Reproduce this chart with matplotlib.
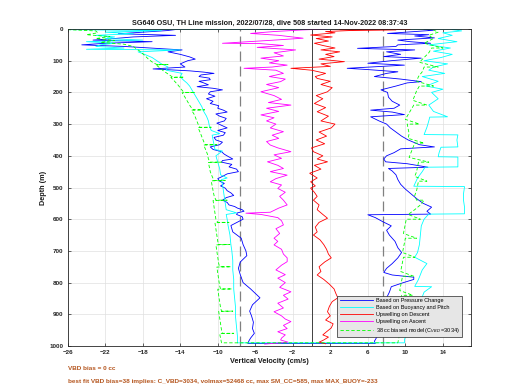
import matplotlib
matplotlib.use("Agg")
import matplotlib.pyplot as plt

plt.rcParams['font.family'] = ['Liberation Sans', 'DejaVu Sans']

title = "SG646 OSU, TH Line mission, 2022/07/28, dive 508 started 14-Nov-2022 08:37:43"
xlabel = "Vertical Velocity (cm/s)"
ylabel = "Depth (m)"
note1 = "VBD bias = 0 cc"
note2 = "best fit VBD bias=38 implies: C_VBD=3034, volmax=52468 cc, max SM_CC=585, max MAX_BUOY=-233"
legend_labels = ["Based on Pressure Change", "Based on Buoyancy and Pitch",
                 "Upwelling on Descent", "Upwelling on Ascent",
                 "38 cc biased model (C$_{VBD}$ =3034)"]
xticks = [-26, -22, -18, -14, -10, -6, -2, 2, 6, 10, 14]
yticks = [0, 100, 200, 300, 400, 500, 600, 700, 800, 900, 1000]
dash_lines = [-7.6, 7.6]

# Based on pressure change (blue): descent then ascent
blue_desc_depth = [0, 5, 10, 15, 20, 25, 30, 35, 40, 45, 50, 55, 62, 66, 72, 80, 88, 95, 100, 110, 120, 126,
                   132, 136, 140, 145, 150, 155, 160, 165, 170, 176,
                   182, 187, 192, 198, 205, 212, 220, 228, 235, 242,
                   250, 256, 262, 268, 275, 282, 290, 297, 305, 312,
                   320, 327, 335, 342, 350, 357, 365, 372, 380, 387,
                   395, 402, 410, 415, 420, 427, 435, 442, 450, 457,
                   465, 472, 480, 487, 495, 502, 510, 517, 525, 532,
                   540, 547, 555, 560, 565, 570, 575, 580, 585, 592, 600,
                   620, 640, 660, 680, 700, 715, 735, 755, 775, 800, 820, 848, 870, 890, 905, 925, 945, 960, 975,
                   985, 992]
blue_desc_vel = [-14.0, -15.4, -18.0, -20.6, -14.5, -19.0, -21.0, -23.3, -17.0, -22.0, -24.5, -20.0, -16.0, -13.8,
                 -15.3, -14.0, -13.0, -12.4, -13.2, -14.0, -13.5, -16.9,
                 -13.0, -11.5, -10.4, -11.8, -12.0, -10.9, -10.8, -12.0, -11.5, -11.0,
                 -12.2, -10.5, -9.5, -10.8, -11.0, -10.3, -11.2, -10.5, -10.8, -9.9,
                 -10.0, -9.4, -9.0, -10.2, -9.8, -9.1, -9.3, -10.1, -9.5, -9.0,
                 -10.0, -9.2, -9.4, -10.4, -10.2, -9.5, -9.8, -10.8, -10.5, -9.6,
                 -9.3, -8.9, -8.4, -9.5, -9.6, -8.5, -8.8, -8.0, -7.8, -9.0,
                 -9.5, -10.0, -9.8, -9.3, -9.7, -9.2, -9.0, -8.6, -8.3, -9.1,
                 -9.5, -9.0, -8.8, -8.2, -7.9, -7.4, -7.2, -7.9, -8.0, -7.4, -7.3,
                 -8.6, -8.4, -7.5, -7.3, -7.0, -6.9, -7.6, -7.8, -7.6, -7.3, -6.5, -5.5, -6.3, -6.6, -6.4, -6.2,
                 -6.3, -6.1, -6.5, -6.7, -6.8]
blue_asc_depth = [992, 985, 970, 950, 930, 905, 886, 865, 848, 830, 813, 800, 790, 783, 776, 768, 755, 740, 722, 705,
                  690, 670, 650, 635, 621, 608, 595, 586, 584, 575, 562, 550, 535, 520, 505, 490, 475, 460, 448, 440,
                  436, 425, 419, 410, 400, 390, 378, 372, 365, 350, 338, 325, 312, 300, 290, 280, 277, 270, 262, 256,
                  250, 240, 228, 215, 200, 192, 180, 170, 166, 158, 150, 140, 135, 128, 124, 118, 114, 108, 100, 92,
                  87, 80, 72, 66, 61, 55, 50, 45, 40, 35, 28, 22, 18, 14, 8, 4, 1]
blue_asc_vel = [6.8, 6.7, 7.0, 7.3, 7.8, 8.0, 8.1, 8.4, 8.0, 8.3,
                8.5, 9.8, 10.9, 10.9, 8.6, 7.7, 8.0, 8.6, 9.2, 9.6,
                9.2, 8.9, 8.3, 8.0, 8.5, 7.6, 6.8, 6.0, 12.7, 12.3,
                12.8, 11.9, 11.2, 10.6, 10.0, 9.5, 9.2, 9.0, 8.6, 8.2,
                12.4, 10.2, 7.9, 7.7, 8.0, 8.8, 9.5, 13.1, 11.5, 10.3,
                9.6, 9.0, 8.4, 8.0, 7.2, 6.5, 6.3, 9.9, 8.6, 6.3,
                8.8, 9.4, 8.6, 8.2, 8.1, 7.4, 9.0, 10.2, 11.7, 9.5,
                6.7, 8.0, 9.2, 6.0, 3.8, 7.5, 9.9, 6.0, 8.5, 11.7,
                7.7, 9.5, 8.0, 11.0, 4.9, 9.0, 9.2, 12.7, 10.5, 9.2,
                13.1, 11.0, 12.5, 8.1, 11.0, 13.0, 12.0]

# Based on buoyancy and pitch (cyan)
cyan_desc_depth = [0.5, 2, 5, 10, 15, 20, 25, 30, 35, 40, 45, 50, 55, 60, 64, 66, 72, 80, 90, 100,
                   110, 120, 130, 140, 150, 160, 170, 180, 190, 200, 215, 230, 245, 260, 275, 290, 305, 320, 330, 335,
                   350, 365, 380, 385, 400, 420, 440, 460, 470, 475, 490, 510, 530, 550, 570, 580, 585, 600, 620, 650,
                   680, 700, 730, 760, 790, 820, 850, 880, 910, 940, 970, 990]
cyan_desc_vel = [16.0, -26.0, -16.0, -22.0, -19.0, -23.0, -21.0, -22.0, -18.0, -24.0,
                 -21.0, -22.5, -23.0, -20.0, -24.0, -14.0, -18.5, -17.8, -17.0, -16.5,
                 -16.0, -15.3, -15.5, -13.8, -14.0, -13.7, -13.3, -13.0, -12.8, -12.6,
                 -12.3, -12.0, -11.7, -11.5, -11.2, -11.0, -10.9, -10.7, -9.8, -10.6,
                 -10.5, -10.4, -10.3, -9.5, -10.2, -10.0, -9.8, -9.7, -9.0, -9.6,
                 -9.5, -9.4, -9.3, -9.2, -9.1, -8.0, -9.1, -9.0, -8.9, -8.7,
                 -8.6, -8.5, -8.4, -8.4, -8.3, -8.3, -8.2, -8.1, -8.1, -8.0,
                 -7.9, -7.9]
cyan_asc_depth = [990, 980, 950, 918, 890, 860, 830, 813, 812, 790, 760, 740, 720, 705, 680, 650, 621, 600, 590, 584,
                  583, 560, 540, 520, 500, 497, 496, 470, 450, 436, 435, 420, 404, 403, 390, 373, 372, 350, 334, 333,
                  310, 290, 278, 277, 260, 240, 220, 200, 190, 180, 165, 150, 140, 130, 120, 110, 100, 90, 80, 70,
                  60, 50, 40, 30, 20, 12, 6, 2]
cyan_asc_vel = [9.9, 9.9, 10.3, 10.9, 11.2, 11.6, 12.0, 12.8, 11.0, 11.4,
                11.8, 12.3, 11.0, 11.3, 11.5, 11.6, 11.7, 12.0, 12.3, 12.5,
                16.3, 16.3, 16.2, 16.2, 16.3, 16.3, 10.9, 11.3, 11.8, 12.1,
                15.6, 15.6, 15.6, 13.5, 13.6, 13.8, 15.6, 15.5, 15.6, 12.0,
                12.3, 12.5, 12.6, 14.5, 13.0, 12.5, 13.5, 12.8, 14.0, 12.2,
                13.5, 11.8, 14.2, 12.5, 13.0, 14.5, 12.0, 13.8, 15.0, 13.0,
                14.8, 12.5, 15.5, 13.5, 15.0, 14.0, 16.0, 15.0]

# 38 cc biased model (green dashed)
green_desc_depth = [2, 6, 12, 18, 24, 30, 36, 42, 48, 55, 62, 70, 78, 86, 95, 104,
                    112, 112, 113, 122, 132, 142,
                    152, 152, 153, 165, 178, 190,
                    200, 200, 201, 215, 230, 245,
                    255, 255, 256, 270, 285, 300,
                    310, 310, 311, 325, 340, 355,
                    365, 365, 366, 380, 395, 410,
                    420, 420, 421, 435, 450, 465,
                    478, 478, 479, 495, 510, 525,
                    540, 540, 541, 560, 580, 600,
                    610, 610, 611, 630, 650, 670,
                    680, 680, 681, 700, 720, 740,
                    750, 750, 751, 770, 790, 810,
                    820, 820, 821, 840, 860, 880,
                    890, 890, 891, 910, 930, 950,
                    960, 960, 961, 975, 990]
green_desc_vel = [-26.0, -23.0, -22.8, -24.0, -21.5, -23.0, -21.0, -22.5, -20.0, -19.0, -18.7, -18.3, -18.0, -17.7, -17.4, -17.0,
                  -16.5, -15.3, -16.6, -16.2, -15.8, -15.3,
                  -14.8, -13.6, -15.0, -14.6, -14.2, -13.9,
                  -13.6, -12.4, -13.8, -13.5, -13.2, -12.9,
                  -12.6, -11.4, -12.8, -12.5, -12.3, -12.1,
                  -11.9, -10.7, -12.1, -11.9, -11.7, -11.5,
                  -11.3, -10.1, -11.5, -11.3, -11.1, -11.0,
                  -10.8, -9.6, -11.0, -10.9, -10.8, -10.6,
                  -10.4, -9.2, -10.7, -10.6, -10.5, -10.4,
                  -10.2, -9.0, -10.5, -10.4, -10.3, -10.2,
                  -10.0, -8.8, -10.3, -10.2, -10.1, -10.0,
                  -9.9, -8.7, -10.2, -10.1, -10.0, -9.9,
                  -9.8, -8.6, -10.1, -10.0, -9.9, -9.8,
                  -9.7, -8.5, -10.0, -9.9, -9.8, -9.7,
                  -9.6, -8.4, -9.9, -9.8, -9.7, -9.6,
                  -9.5, -8.3, -9.8, -9.7, -9.6]
green_asc_depth = [990, 975, 960, 960, 945, 930, 915, 900, 900, 885,
                   870, 855, 840, 840, 825, 810, 795, 780, 780, 765,
                   750, 735, 720, 720, 705, 690, 675, 660, 660, 645,
                   630, 615, 600, 600, 585, 570, 555, 540, 540, 525,
                   510, 495, 480, 480, 465, 450, 435, 420, 420, 405,
                   390, 375, 360, 360, 345, 330, 315, 300, 300, 285,
                   270, 255, 240, 240, 225, 210, 195, 180, 180, 165,
                   150, 135, 120, 120, 105, 90, 75, 60, 60, 45,
                   30, 20, 10, 3]
green_asc_vel = [9.2, 9.3, 9.4, 10.6, 9.2, 9.3, 9.4, 9.5, 10.7, 9.3,
                 9.4, 9.5, 9.6, 10.8, 9.4, 9.5, 9.6, 9.7, 10.9, 9.5,
                 9.6, 9.7, 9.8, 11.0, 9.7, 9.8, 9.9, 10.0, 11.2, 9.8,
                 9.9, 10.0, 10.1, 11.6, 10.3, 11.0, 11.6, 12.0, 11.2, 11.0,
                 11.2, 11.3, 11.4, 12.3, 11.0, 11.2, 11.3, 11.4, 12.5, 10.4,
                 10.6, 10.8, 11.0, 12.0, 10.3, 10.4, 10.3, 10.2, 11.5, 10.0,
                 10.3, 10.6, 10.9, 12.3, 10.8, 11.0, 11.2, 11.5, 13.0, 11.2,
                 11.4, 11.8, 12.0, 13.5, 11.5, 12.0, 12.5, 12.8, 14.0, 12.0,
                 13.0, 12.5, 13.5, 13.0]

# Upwelling on descent (red)
red_depth = [0, 1, 2, 3, 5, 8, 12, 19, 25, 30, 38, 45, 52, 60, 66, 72, 80, 87, 95, 103,
             110, 118, 124, 130, 140, 150, 156, 165, 175, 185, 198, 210, 220, 235, 248, 261, 275, 290, 300, 312,
             325, 338, 350, 362, 375, 387, 400, 410, 419, 430, 442, 455, 470, 482, 495, 502, 515, 528, 540, 555,
             570, 585, 597, 610, 625, 640, 650, 665, 680, 695, 710, 722, 735, 750, 765, 776, 790, 805, 820, 835,
             848, 860, 875, 892, 905, 918, 930, 943, 955, 965, 972, 981, 988, 993]
red_vel = [2.0, 10.5, 3.0, 9.0, 4.0, 1.5, 2.5, -0.1, 2.2, 0.5,
           1.8, 0.3, 1.2, 2.5, 1.0, 3.0, 1.5, 2.4, 0.8, 3.5,
           1.0, 2.0, -2.2, 0.0, 1.5, 0.4, 0.6, 2.0, 1.0, 2.2,
           1.7, 0.5, 1.2, 0.3, 1.5, 0.6, 1.8, 1.0, 2.5, 2.1,
           0.8, 1.6, 0.5, 1.4, 0.0, 0.2, 1.2, 0.6, 1.7, 0.3,
           1.0, -0.2, 0.6, -0.1, 0.4, -0.1, 0.3, 0.6, 0.2, 0.8,
           0.6, 1.2, 1.7, 0.8, 0.4, 0.6, 0.2, 0.9, 1.3, 1.6,
           1.8, 2.1, 1.4, 0.8, 1.0, 0.6, 1.3, 1.9, 2.4, 2.6,
           2.8, 2.2, 1.9, 1.7, 2.0, 1.5, 2.3, 2.1, 1.6, 1.2,
           1.8, 1.3, 0.8, 1.5]

# Upwelling on ascent (magenta)
mag_depth = [0, 3, 8, 14, 20, 29, 36, 45, 46, 52, 58, 66, 75, 85, 92, 100, 107, 114, 120, 124,
             130, 140, 150, 158, 166, 175, 185, 198, 210, 222, 232, 240, 250, 260, 271, 280, 290, 300, 312, 324,
             335, 345, 355, 366, 375, 387, 397, 408, 419, 430, 440, 450, 461, 472, 482, 492, 503, 515, 528, 540,
             555, 565, 578, 581, 585, 595, 605, 618, 630, 645, 660, 670, 681, 695, 710, 722, 734, 745, 760, 775,
             786, 800, 815, 829, 840, 852, 865, 880, 892, 905, 915, 923, 935, 945, 955, 965, 975, 981, 988, 994]
mag_vel = [1.7, -1.0, -4.0, -6.5, -3.5, -0.9, -4.5, -9.5, -5.5, -3.0,
           -5.8, -1.7, -4.0, -3.0, -5.4, -3.5, -4.5, -2.6, -4.2, -7.2,
           -3.8, -3.0, -4.5, -2.8, -3.3, -4.8, -3.5, -5.4, -4.0, -3.2,
           -4.6, -2.2, -4.8, -3.5, -5.4, -4.0, -4.8, -3.8, -4.4, -3.0,
           -4.2, -3.5, -4.8, -4.4, -3.6, -2.2, -4.0, -3.2, -4.7, -3.6,
           -3.0, -4.4, -2.6, -3.8, -4.4, -3.2, -3.6, -2.8, -3.4, -3.0,
           -2.6, -3.5, -4.4, -7.0, -5.4, -3.6, -3.2, -3.0, -3.8, -3.4,
           -4.0, -3.6, -4.0, -3.2, -3.0, -2.6, -2.6, -3.2, -3.8, -2.8,
           -3.6, -2.8, -3.4, -2.2, -3.0, -2.5, -3.6, -3.0, -4.0, -3.2,
           -2.8, -2.2, -3.0, -2.6, -3.6, -2.8, -3.2, -3.3, -2.5, -5.0]

W, H = 520, 390
fig = plt.figure(figsize=(W / 100, H / 100), dpi=100)
ax = fig.add_axes([67.7 / W, 1 - 346 / H, 403.3 / W, 317 / H])

lw = 0.6
ax.plot(blue_desc_vel + blue_asc_vel, blue_desc_depth + blue_asc_depth, color='#0000ff', lw=lw,
        label=legend_labels[0])
ax.plot(cyan_desc_vel + cyan_asc_vel, cyan_desc_depth + cyan_asc_depth, color='#00ffff', lw=lw,
        label=legend_labels[1])
ax.plot(red_vel, red_depth, color='#ff0000', lw=lw, label=legend_labels[2])
ax.plot(mag_vel, mag_depth, color='#ff00ff', lw=lw, label=legend_labels[3])
ax.plot(green_desc_vel + green_asc_vel, green_desc_depth + green_asc_depth, color='#00ff00', lw=lw,
        ls=(0, (4, 2.5)), label=legend_labels[4])

for xv in dash_lines:
    ax.axvline(xv, color='#808080', lw=0.9, ls=(0, (8, 4)), zorder=1)
ax.axvline(0, color='#404040', lw=0.7, zorder=1)

ax.set_xlim(-26, 17)
ax.set_ylim(1000, 0)
ax.set_xticks(xticks)
ax.set_yticks(yticks)
ax.grid(True, color='#e0e0e0', lw=0.5)
ax.set_axisbelow(True)
ax.tick_params(direction='in', length=2.5, width=0.5, labelsize=4.5, colors='#262626',
               top=True, right=True, pad=3)
for lab in ax.get_xticklabels() + ax.get_yticklabels():
    lab.set_fontweight('bold')
for s in ax.spines.values():
    s.set_color('#262626')
    s.set_linewidth(0.6)

ax.set_title(title, fontsize=5.2, fontweight='bold', pad=3, color='#1a1a1a')
ax.set_xlabel(xlabel, fontsize=5.2, fontweight='bold', labelpad=2, color='#1a1a1a')
ax.set_ylabel(ylabel, fontsize=5.2, fontweight='bold', labelpad=2, color='#1a1a1a')

fig.text(67.7 / W, 1 - 368 / H, note1, fontsize=4.6, fontweight='bold', color='#b5561f', va='center')
fig.text(67.7 / W, 1 - 381 / H, note2, fontsize=4.6, fontweight='bold', color='#b5561f', va='center')

leg = ax.legend(loc='lower right', bbox_to_anchor=(0.978, 0.028), fontsize=4.0, frameon=True,
                fancybox=False, edgecolor='#262626', facecolor='#e6e6e6', framealpha=1,
                handlelength=6.0, labelspacing=0.35, borderpad=0.4, handletextpad=0.6, borderaxespad=0)
leg.get_frame().set_linewidth(0.5)

fig.savefig('out.png', dpi=100)
